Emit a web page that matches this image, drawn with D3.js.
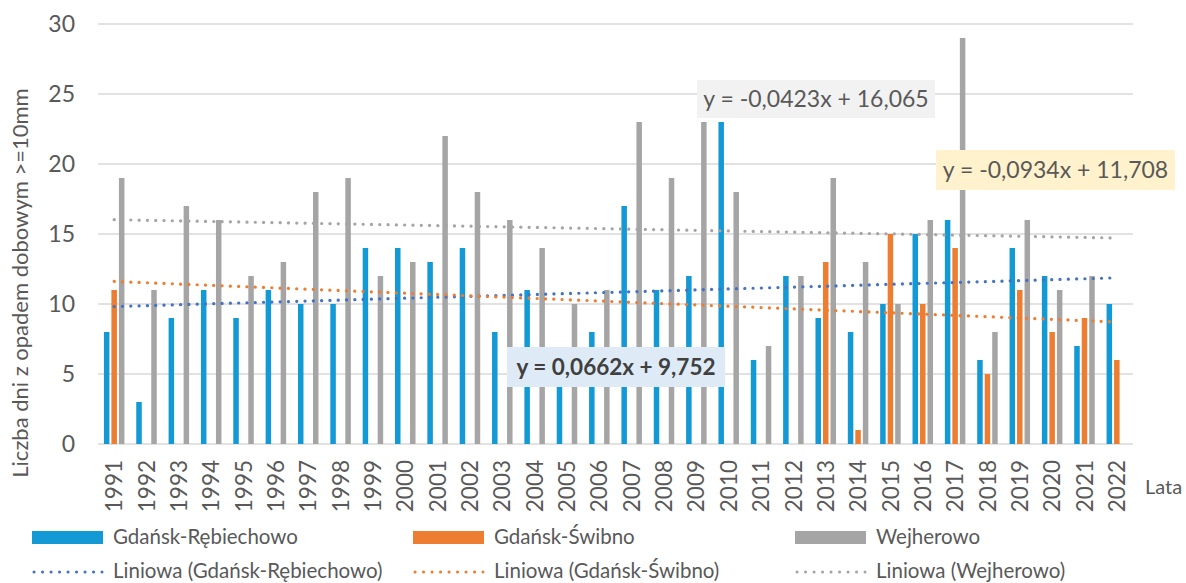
<!DOCTYPE html>
<html><head><meta charset="utf-8">
<script src="https://cdn.jsdelivr.net/npm/d3@7"></script>
<style>body{margin:0;background:#fff}svg{display:block}text{font-family:Lato,"Open Sans",sans-serif}</style>
</head><body>
<svg id="c" width="1186" height="583"></svg>
<script>
const years = d3.range(1991, 2023).map(String);
const rebiechowo = [8,3,9,11,9,11,10,10,14,14,13,14,8,11,5,8,17,11,12,23,6,12,9,8,10,15,16,6,14,12,7,10];
const swibno = [11,null,null,null,null,null,null,null,null,null,null,null,null,null,null,null,null,null,null,null,null,null,13,1,15,10,14,5,11,8,9,6];
const wejherowo = [19,11,17,16,12,13,18,19,12,13,22,18,16,14,10,11,23,19,23,18,7,12,19,13,10,16,29,8,16,11,12,null];
const seriesNames = ["Gdańsk-Rębiechowo","Gdańsk-Świbno","Wejherowo"];
const seriesColors = ["#1399d4","#ed7d31","#a5a5a5"];
const trendColors = ["#4472c4","#ed7d31","#a5a5a5"];
// linear trend coefficients (slope, intercept), x = 1..32
const trendSlope = [0.0662, -0.0934, -0.0423];
const trendIntercept = [9.752, 11.708, 16.065];
const trendLabels = ["y = 0,0662x + 9,752","y = -0,0934x + 11,708","y = -0,0423x + 16,065"];
const yTicks = [0,5,10,15,20,25,30];

const svg = d3.select("#c");
const x = d3.scaleBand().domain(years).range([98,1133]).padding(0);
const y = d3.scaleLinear().domain([0,30]).range([444,24]);
const bw = x.bandwidth()*0.17, pitch = x.bandwidth()*0.232;

// grid
svg.append("g").selectAll("line").data(yTicks).join("line")
  .attr("x1",98).attr("x2",1133).attr("y1",d=>y(d)).attr("y2",d=>y(d))
  .attr("stroke","#d9d9d9").attr("stroke-width",1.5);
// y tick labels
svg.append("g").selectAll("text").data(yTicks).join("text")
  .attr("x",75).attr("y",d=>y(d)).attr("dy","0.36em").attr("text-anchor","end")
  .attr("font-size",23).attr("fill","#595959").text(d=>d);
// x tick labels
svg.append("g").selectAll("text").data(years).join("text")
  .attr("transform",d=>`translate(${x(d)+x.bandwidth()/2},460) rotate(-90)`)
  .attr("dy","0.36em").attr("text-anchor","end")
  .attr("font-size",22.5).attr("fill","#595959").text(d=>d);
svg.append("text").attr("x",1145).attr("y",487).attr("dy","0.36em")
  .attr("font-size",20).attr("fill","#595959").text("Lata");
// y title
svg.append("text").attr("transform","translate(20,283) rotate(-90)")
  .attr("dy","0.36em").attr("text-anchor","middle")
  .attr("font-size",22).attr("fill","#595959").text("Liczba dni z opadem dobowym >=10mm");

// bars
const allSeries = [rebiechowo, swibno, wejherowo];
allSeries.forEach((vals,si)=>{
  svg.append("g").selectAll("rect").data(years.map((yr,i)=>({yr,v:vals[i]})).filter(d=>d.v!=null)).join("rect")
    .attr("x",d=>x(d.yr)+x.bandwidth()/2+(si-1)*pitch-bw/2)
    .attr("width",bw)
    .attr("y",d=>y(d.v)).attr("height",d=>y(0)-y(d.v))
    .attr("fill",seriesColors[si]);
});

// trend lines
const cx = i => x(years[i])+x.bandwidth()/2;
[0,1,2].forEach(si=>{
  const n = years.length;
  const pts = [[cx(0), y(trendSlope[si]*1+trendIntercept[si])],[cx(n-1), y(trendSlope[si]*n+trendIntercept[si])]];
  svg.append("path").attr("d",d3.line()(pts)).attr("stroke",trendColors[si])
    .attr("stroke-width",3.2).attr("stroke-dasharray","0.1 8.2").attr("stroke-linecap","round").attr("fill","none");
});

// equation labels
const labelBoxes = [
  {si:0, x0:507, x1:725, y0:347, y1:387, fill:"#deebf7", bold:true, color:"#404040", fs:22.5},
  {si:1, x0:936, x1:1175, y0:150, y1:190, fill:"#fff2cc", bold:false, color:"#595959", fs:23},
  {si:2, x0:697, x1:935, y0:80, y1:118, fill:"#f2f2f2", bold:false, color:"#595959", fs:23}
];
labelBoxes.forEach(b=>{
  svg.append("rect").attr("x",b.x0).attr("y",b.y0).attr("width",b.x1-b.x0).attr("height",b.y1-b.y0).attr("fill",b.fill);
  svg.append("text").attr("x",(b.x0+b.x1)/2).attr("y",(b.y0+b.y1)/2).attr("dy","0.36em")
    .attr("text-anchor","middle").attr("font-size",b.fs).attr("font-weight",b.bold?"bold":"normal")
    .attr("fill",b.color).text(trendLabels[b.si]);
});

// legend
const legX = [32, 413, 795];
legX.forEach((lx,si)=>{
  svg.append("rect").attr("x",lx).attr("y",531).attr("width",71).attr("height",13).attr("fill",seriesColors[si]);
  svg.append("text").attr("x",lx+81).attr("y",537).attr("dy","0.36em").attr("font-size",20.5).attr("fill","#595959").text(seriesNames[si]);
  svg.append("line").attr("x1",lx+2).attr("x2",lx+70).attr("y1",572).attr("y2",572)
    .attr("stroke",trendColors[si]).attr("stroke-width",3).attr("stroke-dasharray","0.1 8.4").attr("stroke-linecap","round");
  svg.append("text").attr("x",lx+81).attr("y",571).attr("dy","0.34em").attr("font-size",20.5).attr("fill","#595959").text(`Liniowa (${seriesNames[si]})`);
});
</script>
</body></html>
